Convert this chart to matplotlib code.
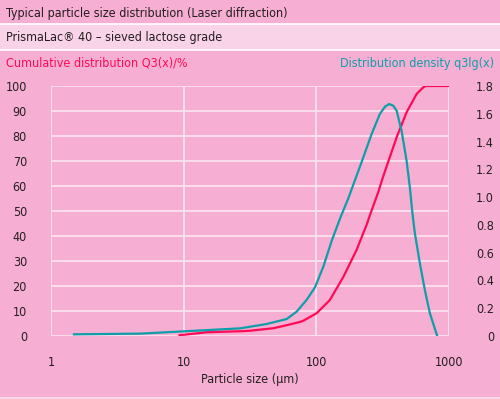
import matplotlib
matplotlib.use("Agg")
import matplotlib.pyplot as plt
from matplotlib import font_manager as fm
from matplotlib.patches import Rectangle
from matplotlib.ticker import FixedLocator, NullLocator

# --- data ---
q3_size = [9.3, 14.9, 26.6, 31.6, 47.3, 56.3, 75, 79.7, 100.5, 126.5, 160, 201, 239, 261,
           293, 319, 403, 479, 570, 640, 670, 1000]
q3_cum = [0.3, 1.5, 1.9, 2.1, 3.1, 4.0, 5.6, 6.1, 9.1, 14.4, 23.7, 34.4, 44.4, 50.2,
          57.6, 63.8, 79.5, 89.5, 96.8, 99.5, 100, 100]

dens_size = [1.49, 4.69, 11.2, 26.6, 42, 59.7, 71, 84.5, 97.6, 113, 130, 151, 174, 219, 261,
             301, 330, 354, 380, 403, 439, 479, 507, 531, 553, 604, 658, 718, 815]
dens_val = [0.012, 0.017, 0.036, 0.055, 0.086, 0.122, 0.175, 0.26, 0.35, 0.50, 0.68, 0.847,
            0.99, 1.25, 1.454, 1.598, 1.652, 1.67, 1.658, 1.622, 1.478, 1.262, 1.07, 0.878,
            0.74, 0.52, 0.33, 0.163, 0.0]

left_ticks = [0, 10, 20, 30, 40, 50, 60, 70, 80, 90, 100]
right_ticks = [0, 0.2, 0.4, 0.6, 0.8, 1.0, 1.2, 1.4, 1.6, 1.8]
right_labels = ["0", "0.2", "0.4", "0.6", "0.8", "1.0", "1.2", "1.4", "1.6", "1.8"]
x_ticks = [1, 10, 100, 1000]

title1 = "Typical particle size distribution (Laser diffraction)"
title2 = "PrismaLac\u00ae 40 \u2013 sieved lactose grade"
left_label = "Cumulative distribution Q3(x)/%"
right_label = "Distribution density q3lg(x)"
x_label = "Particle size (\u00b5m)"

BG = "#f7aed3"
BAND2 = "#f9d4e8"
GRID = "#fbe2ef"
RED = "#ff0a55"
CYAN = "#0f9ea9"
TXT = "#231f20"

# pick a narrow font if one is installed
names = {f.name for f in fm.fontManager.ttflist}
condensed = [f for f in fm.fontManager.ttflist
             if f.name == "DejaVu Sans" and "Condensed" in f.fname]
if "Liberation Sans Narrow" in names:
    FONT, STRETCH, FS = ["Liberation Sans Narrow", "DejaVu Sans"], "normal", 10.4
elif condensed:
    FONT, STRETCH, FS = ["DejaVu Sans", "DejaVu Sans"], "condensed", 9
else:
    FONT, STRETCH, FS = ["Lato", "DejaVu Sans"], "normal", 9
plt.rcParams["font.family"] = FONT
plt.rcParams["font.stretch"] = STRETCH

W, H = 500, 399
PT = 0.72  # points per pixel at dpi 100
fig = plt.figure(figsize=(W / 100, H / 100), dpi=100, facecolor=BG)

# header bands
fig.patches.append(Rectangle((0, 1 - 50 / H), 1, 26 / H, transform=fig.transFigure,
                             facecolor=BAND2, edgecolor="none", zorder=0))
for yy in (24, 50):
    fig.add_artist(plt.Line2D([0, 1], [1 - yy / H, 1 - yy / H], transform=fig.transFigure,
                              color="white", lw=1.2))
fig.add_artist(plt.Line2D([0, 1], [1 - 397.5 / H, 1 - 397.5 / H], transform=fig.transFigure,
                          color="#fbd8ea", lw=1.5))

fig.text(6 / W, 1 - 13 / H, title1, ha="left", va="center", fontsize=FS, color=TXT)
fig.text(6 / W, 1 - 37.5 / H, title2, ha="left", va="center", fontsize=FS, color=TXT)
fig.text(6 / W, 1 - 63 / H, left_label, ha="left", va="center", fontsize=FS, color=RED)
fig.text(494 / W, 1 - 63 / H, right_label, ha="right", va="center", fontsize=FS, color=CYAN)

left, right, top, bottom = 51, 449, 86, 336
ax = fig.add_axes([left / W, 1 - bottom / H, (right - left) / W, (bottom - top) / H])
ax.set_facecolor(BG)
ax.set_xscale("log")
ax.set_xlim(1, 1000)
ax.set_ylim(0, 100)
for s in ax.spines.values():
    s.set_visible(False)

ax.xaxis.set_major_locator(FixedLocator(x_ticks))
ax.xaxis.set_minor_locator(NullLocator())
ax.set_xticklabels([str(v) for v in x_ticks])
ax.set_yticks(left_ticks)
ax.set_yticklabels([str(v) for v in left_ticks])
ax.tick_params(axis="both", length=0, labelsize=FS, colors=TXT)
ax.tick_params(axis="y", pad=24 * PT)
ax.tick_params(axis="x", pad=20 * PT)
ax.grid(True, color=GRID, lw=1.3)
ax.set_axisbelow(True)
ax.set_xlabel(x_label, fontsize=FS, color=TXT, labelpad=4 * PT)

ax.plot(q3_size, q3_cum, color=RED, lw=1.6, zorder=3)

ax2 = ax.twinx()
ax2.set_ylim(0, 1.8)
for s in ax2.spines.values():
    s.set_visible(False)
ax2.set_yticks(right_ticks)
ax2.set_yticklabels(right_labels)
ax2.tick_params(axis="y", length=0, labelsize=FS, colors=TXT, pad=45 * PT)
for lab in ax2.get_yticklabels():
    lab.set_horizontalalignment("right")
ax2.plot(dens_size, dens_val, color=CYAN, lw=1.6, zorder=3)

fig.savefig("out.png", dpi=100, facecolor=BG)
